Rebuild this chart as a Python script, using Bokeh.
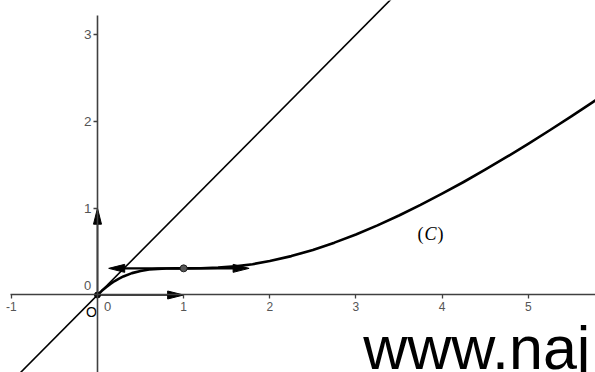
import numpy as np
from bokeh.plotting import figure
from bokeh.models import Range1d, FixedTicker
from bokeh.embed import file_html
from bokeh.resources import INLINE
from bokeh.core.properties import value

# ---- data ----
# curve (C): points
curve_x = [0.0, 0.05, 0.1, 0.15, 0.2, 0.25, 0.3, 0.4, 0.5, 0.6, 0.7, 0.8, 0.9, 1.0,
           1.2, 1.4, 1.6, 1.8, 2.0, 2.25, 2.5, 2.75, 3.0, 3.25, 3.5, 3.75, 4.0,
           4.25, 4.5, 4.75, 5.0, 5.25, 5.5, 5.75, 5.9]
curve_y = [0.0, 0.048, 0.090, 0.128, 0.161, 0.189, 0.214, 0.252, 0.277, 0.293, 0.301,
           0.305, 0.307, 0.307, 0.308, 0.315, 0.330, 0.355, 0.391, 0.448, 0.519, 0.603,
           0.697, 0.802, 0.916, 1.038, 1.167, 1.302, 1.444, 1.590, 1.742, 1.898, 2.058,
           2.222, 2.322]
# straight line y = x (tangent at O)
diag_x = [-1.0, 3.6]
diag_y = [-1.0, 3.6]
# point of horizontal tangent
pt_x = [1.0]
pt_y = [0.307]
# horizontal tangent vectors (tips)
tan_left_x = 0.13
tan_right_x = 1.76
# unit vectors i, j
vec_i = (1.0, 0.0)
vec_j = (0.0, 1.0)
# axes ticks
x_ticks = [-1, 1, 2, 3, 4, 5]
y_ticks = [1, 2, 3]
x_axis_bounds = (-1.01, 6.5)
y_axis_bounds = (-1.0, 3.22)
# curve label
c_label_x = [3.866]
c_label_y = [0.70]
# watermark
wm_text = "www.naj"
wm_x = [3.085]
wm_y = [-0.61]

# ---- figure ----
W, H = 595, 372
X0, X1 = -1.126, 5.781
Y0, Y1 = -0.893, 3.393
px_x = W / (X1 - X0)
px_y = H / (Y1 - Y0)

p = figure(width=W, height=H, x_range=Range1d(X0, X1), y_range=Range1d(Y0, Y1),
           output_backend="svg", toolbar_location=None, min_border=0)
p.grid.visible = False
p.outline_line_color = None
p.background_fill_color = "white"

FONT = "Liberation Sans"
AX_COLOR = "#404040"
LAB_COLOR = "#555555"

for ax in (p.xaxis, p.yaxis):
    ax.fixed_location = 0
    ax.axis_line_color = AX_COLOR
    ax.axis_line_width = 1.6
    ax.major_tick_line_color = AX_COLOR
    ax.major_tick_line_width = 1.3
    ax.major_tick_in = 0
    ax.major_tick_out = 4
    ax.minor_tick_line_color = None
    ax.major_label_text_font = FONT
    ax.major_label_text_color = LAB_COLOR

p.xaxis.major_label_text_font_size = "12px"
p.yaxis.major_label_text_font_size = "13.5px"
p.xaxis.major_label_standoff = 3
p.yaxis.major_label_standoff = 2
p.xaxis.ticker = FixedTicker(ticks=x_ticks)
p.yaxis.ticker = FixedTicker(ticks=y_ticks)
p.xaxis.bounds = x_axis_bounds
p.yaxis.bounds = y_axis_bounds
p.xaxis.major_label_overrides = {-1: "-1"}

# zero labels and origin label
p.text(x=[0, 0], y=[0, 0], text=["0", "0"], x_offset=[10, -10], y_offset=[12, -9],
       text_font=value(FONT), text_font_size="13px", text_color=LAB_COLOR,
       text_align="center", text_baseline="middle")
p.text(x=[0], y=[0], text=["O"], x_offset=[-6], y_offset=[17],
       text_font=value(FONT), text_font_size="14px", text_color="black",
       text_align="center", text_baseline="middle")

# line y = x
p.line(diag_x, diag_y, line_color="black", line_width=1.6)
# curve
p.line(curve_x, curve_y, line_color="black", line_width=2.6, line_cap="round", line_join="round")

# arrows
def head(tip_x, tip_y, dx, dy, L=16, Wd=8):
    bx = tip_x - L * dx / px_x
    by = tip_y - L * dy / px_y
    ox = -dy * (Wd / 2) / px_x
    oy = dx * (Wd / 2) / px_y
    return [tip_x, bx + ox, bx - ox], [tip_y, by + oy, by - oy]

hx, hy = [], []
p.segment(x0=[0], y0=[0], x1=[vec_i[0] - 10 / px_x], y1=[vec_i[1]], line_color="black", line_width=1.6)
a, b = head(vec_i[0], vec_i[1], 1, 0); hx.append(a); hy.append(b)
p.segment(x0=[0], y0=[0], x1=[vec_j[0]], y1=[vec_j[1] - 10 / px_y], line_color="black", line_width=1.6)
a, b = head(vec_j[0], vec_j[1], 0, 1); hx.append(a); hy.append(b)
p.segment(x0=[tan_left_x + 10 / px_x], y0=pt_y, x1=[tan_right_x - 10 / px_x], y1=pt_y,
          line_color="black", line_width=2.4)
a, b = head(tan_left_x, pt_y[0], -1, 0); hx.append(a); hy.append(b)
a, b = head(tan_right_x, pt_y[0], 1, 0); hx.append(a); hy.append(b)
p.patches(hx, hy, fill_color="black", line_color="black", line_width=1)

# points
p.scatter([0], [0], size=6, fill_color="black", line_color="black")
p.scatter(pt_x, pt_y, size=7, fill_color="#555555", line_color="#222222", line_width=1)

# curve label: upright parentheses, italic C
p.text(x=c_label_x * 2, y=c_label_y * 2, text=["(", ")"], x_offset=[-10, 10], y_offset=[0, 0],
       text_font=value("Liberation Serif"), text_font_size="18px", text_color="black",
       text_align="center", text_baseline="middle")
p.text(x=c_label_x, y=c_label_y, text=["C"], text_font=value("Liberation Serif"),
       text_font_style="italic", text_font_size="18px", text_color="black",
       text_align="center", text_baseline="middle")

# watermark
p.text(x=wm_x, y=wm_y, text=[wm_text],
       text_font=value(FONT), text_font_size="61px", text_color="black",
       text_align="left", text_baseline="alphabetic")

open("out.html", "w").write(file_html(p, INLINE))
